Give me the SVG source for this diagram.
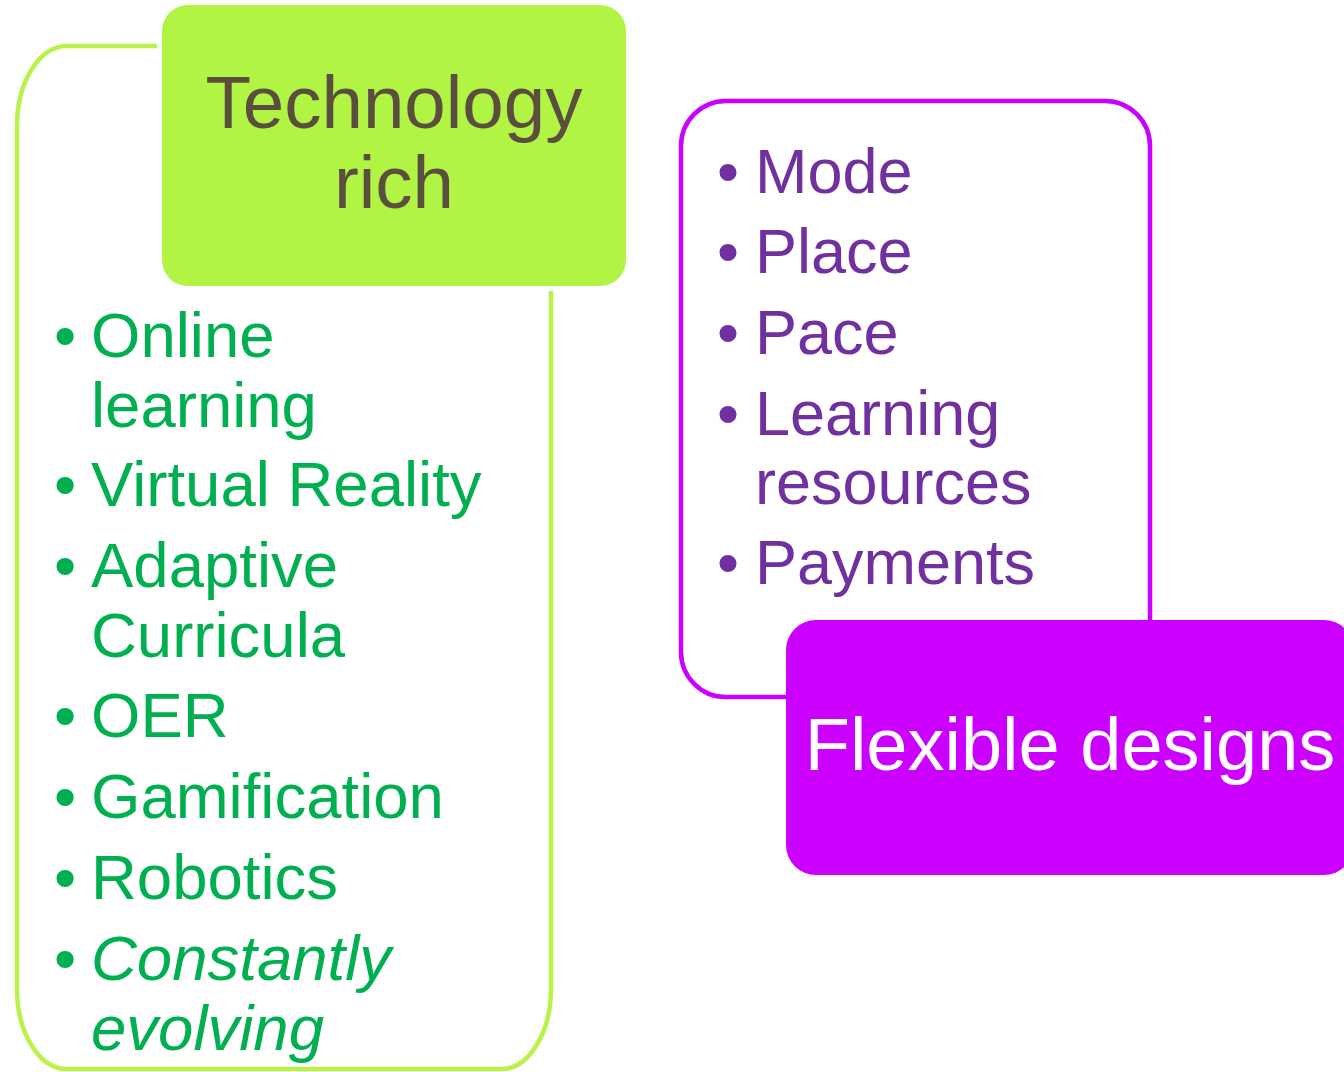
<svg xmlns="http://www.w3.org/2000/svg" width="1344" height="1072" viewBox="0 0 1344 1072">
<style>
.t{font-family:"Liberation Sans",Arial,sans-serif}
.g{fill:#00b050;font-size:63.5px}
.p{fill:#7030a0;font-size:63px}
.outline{fill:none;stroke-width:4.5}
</style>
<rect width="1344" height="1072" fill="#ffffff"/>
<g id="connectors">
<path id="green-outline" class="outline" stroke="#b8f24a" d="M157,46 L67,46 A50,80 0 0 0 17,126 L17,990 A50,80 0 0 0 67,1069 L501,1069 A50,80 0 0 0 551,990 L551,291"/>
<path id="purple-outline" class="outline" stroke="#cc00ff" d="M786,697 L726,697 A45,45 0 0 1 681,652 L681,146 A45,45 0 0 1 726,101 L1105,101 A45,45 0 0 1 1150,146 L1150,620"/>
</g>
<g id="tech-title">
<rect x="162" y="5" width="464" height="281" rx="26" fill="#b2f444"/>
<text class="t" x="394" y="128" font-size="74.5" fill="#5a4f3f" text-anchor="middle">Technology</text>
<text class="t" x="394" y="208" font-size="74.5" fill="#5a4f3f" text-anchor="middle">rich</text>
</g>
<g id="tech-list" class="t g">
<text x="54" y="357">•</text><text x="91" y="357">Online</text>
<text x="91" y="427">learning</text>
<text x="54" y="506">•</text><text x="91" y="506">Virtual Reality</text>
<text x="54" y="587">•</text><text x="91" y="587">Adaptive</text>
<text x="91" y="657">Curricula</text>
<text x="54" y="737">•</text><text x="91" y="737">OER</text>
<text x="54" y="818">•</text><text x="91" y="818">Gamification</text>
<text x="54" y="899">•</text><text x="91" y="899">Robotics</text>
<text x="54" y="980">•</text><text x="91" y="980" font-style="italic">Constantly</text>
<text x="91" y="1050" font-style="italic">evolving</text>
</g>
<g id="flex-list" class="t p">
<text x="717" y="193">•</text><text x="755" y="193">Mode</text>
<text x="717" y="273">•</text><text x="755" y="273">Place</text>
<text x="717" y="354">•</text><text x="755" y="354">Pace</text>
<text x="717" y="435">•</text><text x="755" y="435">Learning</text>
<text x="755" y="504">resources</text>
<text x="717" y="584">•</text><text x="755" y="584">Payments</text>
</g>
<g id="flex-title">
<rect x="786" y="620" width="568" height="255" rx="30" fill="#cc00ff"/>
<text class="t" x="1070" y="770" font-size="74" fill="#ffffff" text-anchor="middle">Flexible designs</text>
</g>
</svg>
